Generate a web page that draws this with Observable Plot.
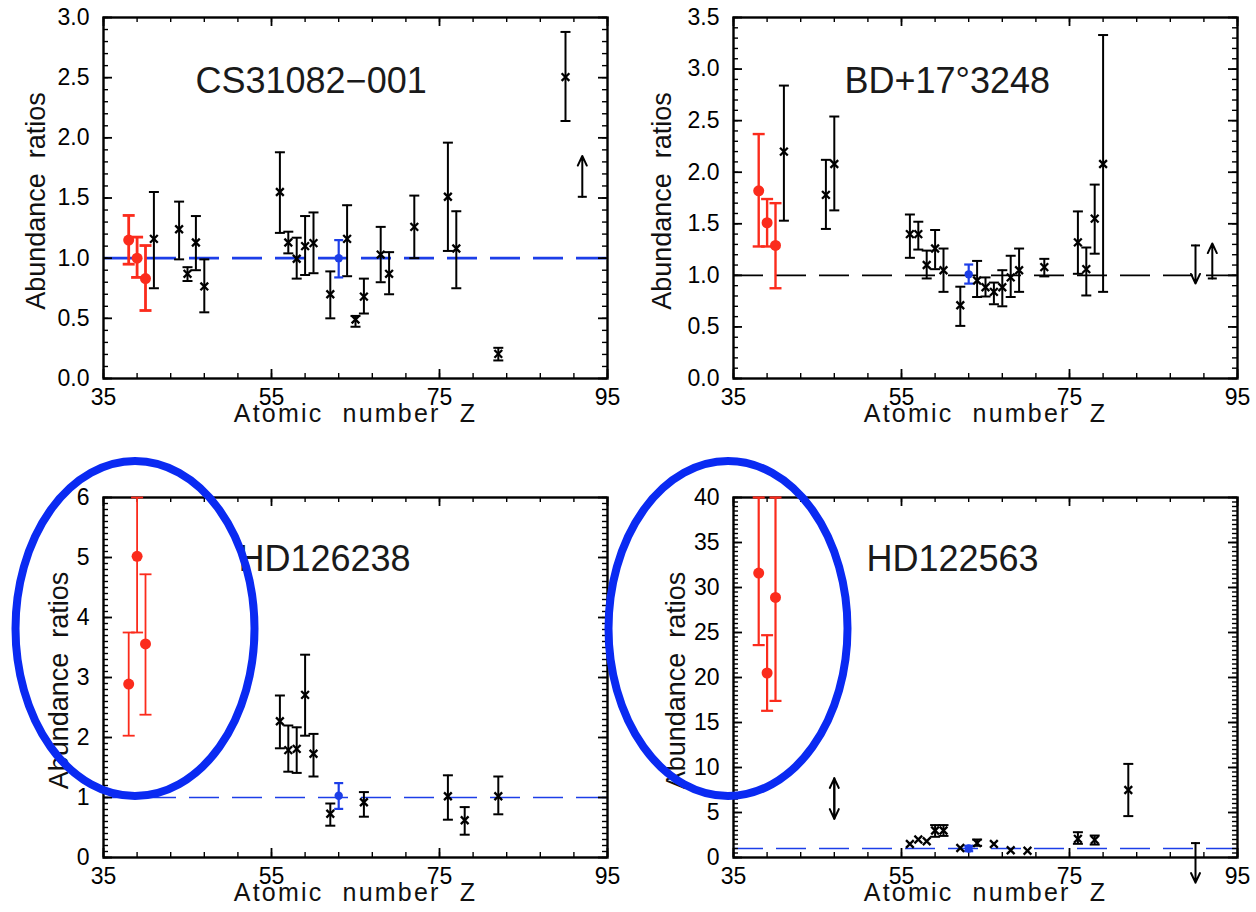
<!DOCTYPE html>
<html><head><meta charset="utf-8">
<script src="https://cdn.jsdelivr.net/npm/d3@7"></script>
<script src="https://cdn.jsdelivr.net/npm/@observablehq/plot@0.6"></script>
<style>
body{margin:0;background:#fff;}
#wrap{position:relative;width:1256px;height:912px;background:#fff;}
.cell{position:absolute;width:628px;height:456px;}
#ov{position:absolute;left:0;top:0;pointer-events:none;}
</style></head><body><div id="wrap"></div>
<script>
// ---------- shared ----------
const xTickLabels = [35, 55, 75, 95];
const xLabel = "Atomic number Z";
const yLabel = "Abundance  ratios";

// ---------- CS31082-001 ----------
const csRedZ  = [38, 39, 40];
const csRedV  = [1.15, 1.00, 0.83];
const csRedLo = [0.95, 0.84, 0.565];
const csRedHi = [1.355, 1.175, 1.105];
const csEuZ = [63], csEuV = [1.00], csEuLo = [0.84], csEuHi = [1.15];
const csZ  = [41, 44, 45, 46, 47, 56, 57, 58, 59, 60, 62, 64, 65, 66, 68, 69, 72, 76, 77, 82, 90];
const csV  = [1.16, 1.24, 0.87, 1.13, 0.765, 1.55, 1.13, 0.995, 1.10, 1.125, 0.70, 1.16, 0.49, 0.68, 1.03, 0.87, 1.26, 1.51, 1.08, 0.205, 2.505];
const csLo = [0.75, 0.99, 0.81, 0.90, 0.55, 1.21, 1.04, 0.83, 0.86, 0.875, 0.50, 0.85, 0.43, 0.54, 0.80, 0.70, 1.00, 1.06, 0.75, 0.15, 2.14];
const csHi = [1.55, 1.47, 0.925, 1.35, 0.99, 1.88, 1.22, 1.17, 1.35, 1.38, 0.89, 1.44, 0.52, 0.83, 1.26, 1.05, 1.52, 1.96, 1.39, 0.255, 2.88];
const csLimZ = [92], csLimFrom = [1.51], csLimTo = [1.85];
const csYTicks = [0, 0.5, 1, 1.5, 2, 2.5, 3];

// ---------- BD+17°3248 ----------
const bdRedZ  = [38, 39, 40];
const bdRedV  = [1.82, 1.51, 1.29];
const bdRedLo = [1.28, 1.28, 0.875];
const bdRedHi = [2.37, 1.74, 1.70];
const bdEuZ = [63], bdEuV = [1.01], bdEuLo = [0.92], bdEuHi = [1.105];
const bdZ  = [41, 46, 47, 56, 57, 58, 59, 60, 62, 64, 65, 66, 67, 68, 69, 72, 76, 77, 78, 79];
const bdV  = [2.20, 1.78, 2.08, 1.40, 1.40, 1.10, 1.26, 1.05, 0.71, 0.95, 0.885, 0.84, 0.885, 0.98, 1.05, 1.08, 1.32, 1.06, 1.55, 2.08];
const bdLo = [1.53, 1.45, 1.63, 1.17, 1.25, 0.97, 1.06, 0.84, 0.51, 0.79, 0.795, 0.72, 0.70, 0.79, 0.84, 0.99, 1.015, 0.805, 1.21, 0.84];
const bdHi = [2.84, 2.12, 2.54, 1.59, 1.52, 1.24, 1.44, 1.26, 0.89, 1.14, 0.98, 0.93, 1.05, 1.19, 1.26, 1.16, 1.62, 1.27, 1.88, 3.33];
const bdLimZ = [90, 92], bdLimFrom = [1.29, 0.97], bdLimTo = [0.92, 1.31];
const bdYTicks = [0, 0.5, 1, 1.5, 2, 2.5, 3, 3.5];

// ---------- HD126238 ----------
const h1RedZ  = [38, 39, 40];
const h1RedV  = [2.89, 5.02, 3.56];
const h1RedLo = [2.03, 3.75, 2.38];
const h1RedHi = [3.75, 6.0, 4.72];
const h1EuZ = [63], h1EuV = [1.03], h1EuLo = [0.81], h1EuHi = [1.24];
const h1Z  = [56, 57, 58, 59, 60, 62, 66, 76, 78, 82];
const h1V  = [2.27, 1.79, 1.81, 2.71, 1.73, 0.73, 0.92, 1.02, 0.62, 1.02];
const h1Lo = [1.82, 1.43, 1.41, 2.03, 1.35, 0.53, 0.68, 0.63, 0.38, 0.72];
const h1Hi = [2.70, 2.20, 2.17, 3.38, 2.06, 0.90, 1.09, 1.37, 0.84, 1.35];
const h1LimZ = [], h1LimFrom = [], h1LimTo = [];
const h1YTicks = [0, 1, 2, 3, 4, 5, 6];

// ---------- HD122563 ----------
const h2RedZ  = [38, 39, 40];
const h2RedV  = [31.6, 20.5, 28.9];
const h2RedLo = [23.6, 16.3, 17.4];
const h2RedHi = [40, 24.7, 40];
const h2EuZ = [63], h2EuV = [1.0], h2EuLo = [0.7], h2EuHi = [1.3];
const h2Z  = [56, 57, 58, 59, 60, 62, 64, 66, 68, 70, 76, 78, 82];
const h2V  = [1.5, 2.0, 1.8, 3.0, 3.0, 1.05, 1.6, 1.5, 0.8, 0.75, 2.07, 1.96, 7.5];
const h2Lo = [null, null, null, 2.3, 2.4, null, 1.3, null, null, null, 1.52, 1.44, 4.6];
const h2Hi = [null, null, null, 3.6, 3.6, null, 2.0, null, null, null, 2.81, 2.44, 10.4];
const h2LimZ = [47, 47, 90], h2LimFrom = [4.3, 8.8, 1.6], h2LimTo = [8.8, 4.3, -2.8];
const h2CapZ = [90], h2CapV = [1.6];
const h2YTicks = [0, 5, 10, 15, 20, 25, 30, 35, 40];

// ---------- helpers ----------
const RED = "#fb2b1c", BLUE = "#1c3ee8", ELL = "#0a2af2";
const rows = (z, v, lo, hi) => z.map((d, i) => ({z: d, v: v[i], lo: lo ? lo[i] : null, hi: hi ? hi[i] : null}));
const cap = {draw(ctx, size) { const r = Math.sqrt(size / Math.PI); ctx.moveTo(-r, 0); ctx.lineTo(r, 0); }};

function errMarks(data, color, sw, capR) {
  const d = data.filter(r => r.lo != null && r.hi != null);
  return [
    Plot.ruleX(d, {x: "z", y1: "lo", y2: "hi", stroke: color, strokeWidth: sw}),
    Plot.dot(d, {x: "z", y: "lo", symbol: cap, r: capR, stroke: color, fill: "none", strokeWidth: sw}),
    Plot.dot(d, {x: "z", y: "hi", symbol: cap, r: capR, stroke: color, fill: "none", strokeWidth: sw})
  ];
}

function panel(cfg) {
  const W = 628, H = 456;
  const fw = W - cfg.ml - cfg.mr, fh = H - cfg.mt - cfg.mb;
  const [y0, y1] = cfg.yDomain;
  const kx = 60 / fw, ky = (y1 - y0) / fh;   // data units per pixel
  const xMinor = d3.range(35, 95.001, 4);
  const yMinor = d3.range(y0, y1 + 1e-9, cfg.yMinor);
  const red = rows(cfg.redZ, cfg.redV, cfg.redLo, cfg.redHi);
  const eu = rows(cfg.euZ, cfg.euV, cfg.euLo, cfg.euHi);
  const blk = rows(cfg.Z, cfg.V, cfg.Lo, cfg.Hi);
  const lims = cfg.limZ.map((z, i) => ({z, from: cfg.limFrom[i], to: cfg.limTo[i]}));
  const caps = (cfg.capZ || cfg.limZ).map((z, i) => ({z, v: (cfg.capV || cfg.limFrom)[i]}));
  const tl = 5, tj = 9, tsw = 1.4;
  const plot = Plot.plot({
    width: W, height: H,
    marginLeft: cfg.ml, marginRight: cfg.mr, marginTop: cfg.mt, marginBottom: cfg.mb,
    style: {fontFamily: "'Liberation Sans', Arial, sans-serif", fontSize: "23px", color: "#000", background: "transparent"},
    x: {domain: [35, 95], ticks: xTickLabels, tickSize: 0, tickPadding: 10, label: null, tickFormat: d => String(d)},
    y: {domain: cfg.yDomain, ticks: cfg.yTicks, tickSize: 0, tickPadding: 14, label: null, tickFormat: cfg.yFmt},
    marks: [
      Plot.ruleY([1], {stroke: cfg.ruleColor, strokeWidth: cfg.ruleW, strokeDasharray: "30,13"}),
      // frame
      Plot.frame({stroke: "#000", strokeWidth: 2.4}),
      // inward tick marks on all four sides
      Plot.ruleX(xMinor, {x: d => d, y1: y0, y2: y0 + tl * ky, stroke: "#000", strokeWidth: tsw}),
      Plot.ruleX(xMinor, {x: d => d, y1: y1 - tl * ky, y2: y1, stroke: "#000", strokeWidth: tsw}),
      Plot.ruleX(xTickLabels, {x: d => d, y1: y0, y2: y0 + tj * ky, stroke: "#000", strokeWidth: tsw + 0.4}),
      Plot.ruleX(xTickLabels, {x: d => d, y1: y1 - tj * ky, y2: y1, stroke: "#000", strokeWidth: tsw + 0.4}),
      Plot.ruleY(yMinor, {y: d => d, x1: 35, x2: 35 + tl * kx, stroke: "#000", strokeWidth: tsw}),
      Plot.ruleY(yMinor, {y: d => d, x1: 95 - tl * kx, x2: 95, stroke: "#000", strokeWidth: tsw}),
      Plot.ruleY(cfg.yTicks, {y: d => d, x1: 35, x2: 35 + tj * kx, stroke: "#000", strokeWidth: tsw + 0.4}),
      Plot.ruleY(cfg.yTicks, {y: d => d, x1: 95 - tj * kx, x2: 95, stroke: "#000", strokeWidth: tsw + 0.4}),
      // error bars
      ...errMarks(blk, "#000", 2, 5),
      ...errMarks(red, RED, cfg.redSw, 6),
      ...errMarks(eu, BLUE, 2.2, 4.5),
      // limits
      Plot.arrow(lims, {x1: "z", x2: "z", y1: "from", y2: "to", stroke: "#000", strokeWidth: 2, headLength: 8, headAngle: 50}),
      Plot.dot(caps, {x: "z", y: "v", symbol: cap, r: 4.5, stroke: "#000", fill: "none", strokeWidth: 2}),
      // points
      Plot.dot(blk, {x: "z", y: "v", symbol: "times", r: 3.6, stroke: "#000", strokeWidth: 2.3}),
      Plot.dot(red, {x: "z", y: "v", r: cfg.redR, fill: RED, stroke: "none"}),
      Plot.dot(eu, {x: "z", y: "v", r: 4.2, fill: BLUE, stroke: "none"}),
      // texts
      Plot.text([cfg.title], {text: d => d, frameAnchor: "top-left", textAnchor: "start", dx: cfg.tdx, dy: cfg.tdy, fontSize: 36, fill: "#1a1a1a"}),
      Plot.text([xLabel], {text: d => d, frameAnchor: "bottom", textAnchor: "middle", dy: cfg.xdy, fontSize: 25, fill: "#111"}),
      Plot.text([yLabel], {text: d => d, frameAnchor: "left", textAnchor: "middle", rotate: -90, dx: cfg.ydx, dy: 3, fontSize: 27, fill: "#111"})
    ]
  });
  // wider lettering of the x label, as in the reference
  d3.select(plot).selectAll("text")
    .filter(function() { return this.textContent === xLabel; })
    .style("letter-spacing", "2.2px").style("word-spacing", "10px");
  const div = document.createElement("div");
  div.className = "cell";
  div.style.left = cfg.left + "px";
  div.style.top = cfg.top + "px";
  div.appendChild(plot);
  document.getElementById("wrap").appendChild(div);
}

const f1 = d3.format(".1f");
panel({left: 0, top: 0, ml: 103, mr: 21, mt: 17, mb: 78, yDomain: [0, 3], yTicks: csYTicks, yMinor: 0.1, yFmt: f1,
  title: "CS31082\u2212001", tdx: 92, tdy: 50, xdy: 43, ydx: -67, ruleColor: BLUE, ruleW: 2.6,
  redZ: csRedZ, redV: csRedV, redLo: csRedLo, redHi: csRedHi, redR: 5.5, redSw: 2.8,
  euZ: csEuZ, euV: csEuV, euLo: csEuLo, euHi: csEuHi,
  Z: csZ, V: csV, Lo: csLo, Hi: csHi, limZ: csLimZ, limFrom: csLimFrom, limTo: csLimTo});
panel({left: 628, top: 0, ml: 105, mr: 19, mt: 17, mb: 78, yDomain: [0, 3.5], yTicks: bdYTicks, yMinor: 0.1, yFmt: f1,
  title: "BD+17\u00b03248", tdx: 111, tdy: 50, xdy: 43, ydx: -71, ruleColor: "#000", ruleW: 1.6,
  redZ: bdRedZ, redV: bdRedV, redLo: bdRedLo, redHi: bdRedHi, redR: 5.5, redSw: 2.4,
  euZ: bdEuZ, euV: bdEuV, euLo: bdEuLo, euHi: bdEuHi,
  Z: bdZ, V: bdV, Lo: bdLo, Hi: bdHi, limZ: bdLimZ, limFrom: bdLimFrom, limTo: bdLimTo});
panel({left: 0, top: 456, ml: 103, mr: 21, mt: 41, mb: 55, yDomain: [0, 6], yTicks: h1YTicks, yMinor: 0.1, yFmt: d => String(d),
  title: "HD126238", tdx: 135, tdy: 48, xdy: 43, ydx: -44, ruleColor: BLUE, ruleW: 1.6,
  redZ: h1RedZ, redV: h1RedV, redLo: h1RedLo, redHi: h1RedHi, redR: 5.5, redSw: 1.8,
  euZ: h1EuZ, euV: h1EuV, euLo: h1EuLo, euHi: h1EuHi,
  Z: h1Z, V: h1V, Lo: h1Lo, Hi: h1Hi, limZ: h1LimZ, limFrom: h1LimFrom, limTo: h1LimTo});
panel({left: 628, top: 456, ml: 105, mr: 19, mt: 41, mb: 55, yDomain: [0, 40], yTicks: h2YTicks, yMinor: 0.5, yFmt: d => String(d),
  title: "HD122563", tdx: 133, tdy: 48, xdy: 43, ydx: -57, ruleColor: BLUE, ruleW: 1.6,
  redZ: h2RedZ, redV: h2RedV, redLo: h2RedLo, redHi: h2RedHi, redR: 5.5, redSw: 2.2,
  euZ: h2EuZ, euV: h2EuV, euLo: h2EuLo, euHi: h2EuHi,
  Z: h2Z, V: h2V, Lo: h2Lo, Hi: h2Hi, limZ: h2LimZ, limFrom: h2LimFrom, limTo: h2LimTo, capZ: h2CapZ, capV: h2CapV});

// blue highlight ellipses over the lower panels (annotation layer)
const ov = d3.select("#wrap").append("svg").attr("id", "ov").attr("width", 1256).attr("height", 912);
ov.selectAll("ellipse").data([{cx: 135, cy: 628.5}, {cx: 728, cy: 628.5}]).join("ellipse")
  .attr("cx", d => d.cx).attr("cy", d => d.cy).attr("rx", 119.5).attr("ry", 167.5)
  .attr("fill", "none").attr("stroke", ELL).attr("stroke-width", 8);
</script></body></html>
